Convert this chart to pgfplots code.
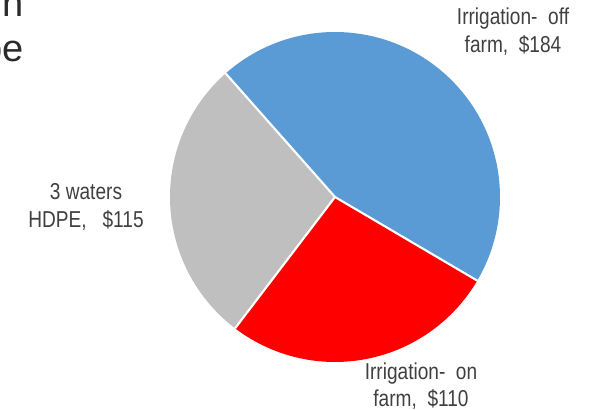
\documentclass[border=0pt]{standalone}
\usepackage{pgfplots}
\usepackage{pgfplotstable}
\pgfplotsset{compat=1.18}
\usepackage{fontspec}
\setmainfont[FakeStretch=0.83]{Liberation Sans}
\newfontfamily\plainsans{Liberation Sans}
\definecolor{sliceblue}{HTML}{5B9BD5}
\definecolor{slicered}{HTML}{FF0000}
\definecolor{slicegray}{HTML}{BFBFBF}
\definecolor{labeltxt}{HTML}{404040}
\definecolor{fragtxt}{HTML}{2B2B2B}

\pgfplotstableread{
label value
offfarm 184
onfarm 110
hdpe 115
}\piedata

\begin{document}%
\begin{tikzpicture}
\pgfplotstablegetelem{0}{value}\of\piedata \global\let\va\pgfplotsretval
\pgfplotstablegetelem{1}{value}\of\piedata \global\let\vb\pgfplotsretval
\pgfplotstablegetelem{2}{value}\of\piedata \global\let\vc\pgfplotsretval
\pgfmathsetmacro\tot{\va+\vb+\vc}
\pgfmathsetmacro\aA{131.5}
\pgfmathsetmacro\aB{\aA-360*(\va/\tot)}
\pgfmathsetmacro\aC{\aB-360*(\vb/\tot)}
\pgfmathsetmacro\aD{\aC-360*(\vc/\tot)}
\global\let\aA\aA \global\let\aB\aB \global\let\aC\aC \global\let\aD\aD
\gdef\PR{123.75pt}
\begin{axis}[
  at={(0,0)}, anchor=origin,
  hide axis, scale only axis,
  xtick=\empty, ytick=\empty,
  width=444pt, height=307.5pt,
  xmin=0, xmax=592, ymin=0, ymax=410,
  clip=false,
]
\addplot[draw=none] coordinates {(0,0) (592,410)};
\fill[sliceblue] (axis cs:335,213) -- ++(\aA:\PR) arc[start angle=\aA, end angle=\aB, radius=\PR] -- cycle;
\fill[slicered] (axis cs:335,213) -- ++(\aB:\PR) arc[start angle=\aB, end angle=\aC, radius=\PR] -- cycle;
\fill[slicegray] (axis cs:335,213) -- ++(\aC:\PR) arc[start angle=\aC, end angle=\aD, radius=\PR] -- cycle;
\draw[white, line width=1.6pt] (axis cs:335,213) -- ++(\aA:\PR);
\draw[white, line width=1.6pt] (axis cs:335,213) -- ++(\aB:\PR);
\draw[white, line width=1.6pt] (axis cs:335,213) -- ++(\aC:\PR);
\node[align=center, inner sep=1pt, text=labeltxt, font=\fontsize{17.25pt}{21pt}\selectfont] at (axis cs:513,378) {Irrigation-\ \ off\\farm,\ \ \$184};
\node[align=center, inner sep=1pt, text=labeltxt, font=\fontsize{17.25pt}{21pt}\selectfont] at (axis cs:86,203) {3 waters\\HDPE,\ \ \ \$115};
\node[align=center, inner sep=1pt, text=labeltxt, font=\fontsize{17.25pt}{20pt}\selectfont] at (axis cs:421,24) {Irrigation-\ \ on\\farm,\ \ \$110};
\node[overlay, anchor=base east, inner sep=0pt, text=fragtxt, font=\plainsans\fontsize{28.5pt}{30pt}\selectfont] at (axis cs:24,393) {in};
\node[overlay, anchor=base east, inner sep=0pt, text=fragtxt, font=\plainsans\fontsize{28.5pt}{30pt}\selectfont] at (axis cs:24,348) {be};
\end{axis}
\pgfresetboundingbox
\useasboundingbox (0,0) rectangle (444pt,307.5pt);
\end{tikzpicture}%
\end{document}
